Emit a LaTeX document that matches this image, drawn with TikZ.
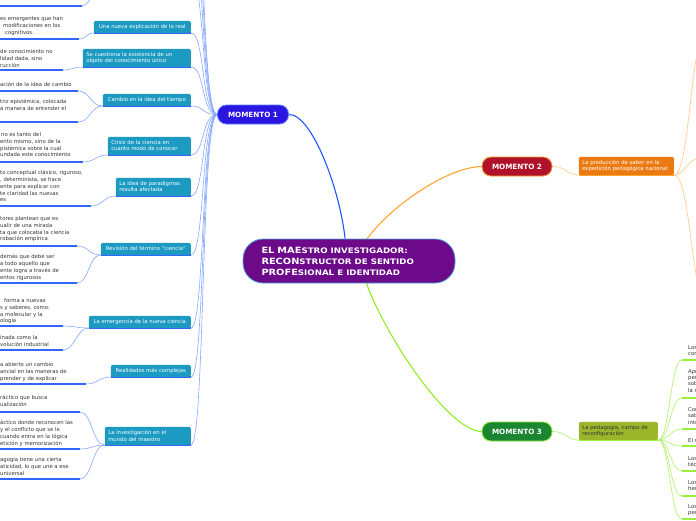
\documentclass[tikz,border=0pt]{standalone}
\usepackage{fontspec}
\setmainfont{DejaVu Sans}
\usepackage{graphicx}
\definecolor{cpurple}{HTML}{6C0A8A}
\definecolor{cpurpleb}{HTML}{4FA3D8}
\definecolor{cm1}{HTML}{2A16E0}
\definecolor{cm1b}{HTML}{5C7CFF}
\definecolor{cm2}{HTML}{B0122C}
\definecolor{cm2b}{HTML}{F5A030}
\definecolor{cm3}{HTML}{1B8532}
\definecolor{cm3b}{HTML}{8CEB2C}
\definecolor{cteal}{HTML}{1C9AC2}
\definecolor{corange}{HTML}{EC7A12}
\definecolor{colive}{HTML}{9DB52A}
\definecolor{cblue}{HTML}{3366FF}
\definecolor{clinkblue}{HTML}{86A8FF}
\definecolor{cmainblue}{HTML}{2255FF}
\definecolor{clorange}{HTML}{FFCF90}
\definecolor{cmainorange}{HTML}{FFA530}
\definecolor{clgreen}{HTML}{B8F27A}
\definecolor{cgreenline}{HTML}{9CEE3C}
\definecolor{cmaingreen}{HTML}{90EE20}
\definecolor{leafgray}{HTML}{333333}
\pgfdeclarelayer{bg}
\pgfsetlayers{bg,main}
\tikzset{
  lbox/.style={fill=cteal, text=white, font=\fontsize{5.3}{6.4}\selectfont, rounded corners=1.5pt, inner xsep=3.5pt, inner ysep=1pt, anchor=south east},
  leaf/.style={anchor=north west, inner sep=0pt, align=left, text=leafgray, font=\fontsize{5.3}{6.7}\selectfont},
  rleaf/.style={anchor=north west, inner sep=0pt, align=left, text=leafgray, font=\fontsize{5.3}{6.2}\selectfont},
  uline/.style={draw=cblue, line width=1.6pt},
  gline/.style={draw=cgreenline, line width=1.6pt},
  oline/.style={draw=cmainorange, line width=1.4pt},
  bluelink/.style={draw=clinkblue, line width=0.6pt},
  orangelink/.style={draw=clorange, line width=0.7pt},
  greenlink/.style={draw=clgreen, line width=0.7pt},
  pill/.style={rounded corners=9pt, minimum height=19pt, minimum width=71pt, text=white, font=\fontsize{7.2}{8}\selectfont\bfseries, line width=0.8pt},
}
\newcommand{\bigpart}[1]{{\fontsize{8.6}{11}\selectfont #1}}
\newcommand{\smallpart}[1]{{\fontsize{7.6}{11}\selectfont #1}}
\begin{document}
\begin{tikzpicture}[x=1pt,y=-1pt]
\useasboundingbox (0,0) rectangle (696,520);
\clip (0,0) rectangle (696,520);

% ---------- main nodes
\node[draw=cpurpleb, fill=cpurple, rounded corners=20pt, minimum width=212pt, minimum height=44pt, line width=0.8pt, text=white, align=left, text width=175pt, inner sep=0pt, font=\bfseries\fontsize{8}{11}\selectfont] (c) at (349,261)
 {\scalebox{1.14}[1]{\bigpart{EL MAE}\smallpart{STRO INVESTIGADOR:}}\\
  \scalebox{1.14}[1]{\bigpart{RECON}\smallpart{STRUCTOR DE SENTIDO}}\\
  \scalebox{1.14}[1]{\bigpart{PROFE}\smallpart{SIONAL E IDENTIDAD}}};

\node[pill, fill=cm1, draw=cm1b] (m1) at (253,114.5) {MOMENTO 1};
\node[pill, fill=cm2, draw=cm2b, minimum width=70pt] (m2) at (517,166.5) {MOMENTO 2};
\node[pill, fill=cm3, draw=cm3b, minimum width=70pt] (m3) at (517,431.5) {MOMENTO 3};

% ---------- left subtopic boxes
\node[lbox, minimum width=97pt, minimum height=12pt] (b1) at (191,33) {Una nueva explicación de lo real};
\node[lbox, minimum width=108pt, minimum height=18pt, text width=101pt, align=left] (b2) at (191,67) {Se cuestiona la existencia de un\\objeto del conocimiento único};
\node[lbox, minimum width=88pt, minimum height=12pt] (b3) at (191,106) {Cambio en la idea del tiempo};
\node[lbox, minimum width=83pt, minimum height=18pt, text width=76pt, align=left] (b4) at (191,155) {Crisis de la ciencia en\\cuanto modo de conocer};
\node[lbox, minimum width=75pt, minimum height=18pt, text width=68pt, align=left] (b5) at (191,196) {La idea de paradigmas\\resulta afectada};
\node[lbox, minimum width=90pt, minimum height=12pt] (b6) at (191,255) {Revisión del término "ciencia"};
\node[lbox, minimum width=102pt, minimum height=12pt] (b7) at (191,328) {La emergencia de la nueva ciencia};
\node[lbox, minimum width=80pt, minimum height=12pt] (b8) at (191,377) {Realidades más complejas};
\node[lbox, minimum width=86pt, minimum height=18pt, text width=79pt, align=left] (b9) at (191,445) {La investigación en el\\mundo del maestro};

% ---------- right subtopic boxes
\node[lbox, fill=corange, minimum width=95pt, minimum height=18pt, text width=88pt, align=left] (ob) at (674,175) {La producción de saber en la\\expedición pedagógica nacional};
\node[lbox, fill=colive, text=leafgray, minimum width=79pt, minimum height=18pt, text width=72pt, align=left] (gb) at (658,440) {La pedagogía, campo de\\reconfiguración};

% ---------- left leaves
\node[leaf] (l0) at (0,-3.5) {identidades};
\node[leaf] (lA) at (0,16.5) {es emergentes que han\\\hspace*{3pt}modificaciones en los\\\hspace*{5pt}cognitivos.};
\node[leaf] (lB) at (0,49.5) {de conocimiento no\\lidad dada, sino\\rucción};
\node[leaf] (lC) at (0,82.5) {ación de la idea de cambio};
\node[leaf] (lD) at (0,99.5) {triz epistémica, colocada\\a manera de entender el};
\node[leaf] (lE) at (0,132.5) {\hspace*{1pt}no es tanto del\\ento mismo, sino de la\\pistémica sobre la cual\\undada este conocimiento};
\node[leaf] (lF) at (0,170.5) {to conceptual clásico, riguroso,\\, determinista, se hace\\ente para explicar con\\te claridad las nuevas\\es};
\node[leaf] (lG) at (0,216.5) {tores plantean que es\\ualir de una mirada\\ta que colocaba la ciencia\\robación empírica};
\node[leaf] (lH) at (0,254.5) {demás que debe ser\\a todo aquello que\\ente logra a través de\\entos rigurosos};
\node[leaf] (lI) at (0,298.5) {\hspace*{4pt}forma a nuevas\\s y saberes, como:\\a molecular y la\\ología};
\node[leaf] (lJ) at (0,335.5) {inada como la\\volución industrial};
\node[leaf] (lK) at (0,362.5) {a abierto un cambio\\ancial en las maneras de\\prender y de explicar};
\node[leaf] (lL) at (0,395.5) {ráctico que busca\\ualización};
\node[leaf] (lM) at (0,420.5) {áctico donde reconocen las\\y el conflicto que se le\\cuando entra en la lógica\\etición y memorización};
\node[leaf] (lN) at (0,457.5) {agogía tiene una cierta\\aticidad, lo que une a ese\\universal};

% ---------- right leaves (MOMENTO 3)
\node[rleaf] (r1) at (688,345.5) {Los\\con};
\node[rleaf] (r2) at (688,369.5) {Apo\\per\\sob\\la r};
\node[rleaf] (r3) at (688,407.5) {Con\\sab\\inte};
\node[rleaf] (r4) at (688,438.5) {El r};
\node[rleaf] (r5) at (688,456.5) {Los\\técn};
\node[rleaf] (r6) at (688,480.5) {Los\\her};
\node[rleaf] (r7) at (688,504.5) {Los\\pers};

% ---------- coordinates for underline ends
\coordinate (u0s) at (0,6);   \coordinate (u0) at (82,6);
\coordinate (uAs) at (0,39);  \coordinate (uA) at (79,39);
\coordinate (uBs) at (0,70);  \coordinate (uB) at (63,70);
\coordinate (uCs) at (0,91);  \coordinate (uC) at (78,91);
\coordinate (uDs) at (0,122); \coordinate (uD) at (78,122);
\coordinate (uEs) at (0,162); \coordinate (uE) at (83,162);
\coordinate (uFs) at (0,206); \coordinate (uF) at (91,206);
\coordinate (uGs) at (0,246); \coordinate (uG) at (77,246);
\coordinate (uHs) at (0,283); \coordinate (uH) at (77,283);
\coordinate (uIs) at (0,326); \coordinate (uI) at (63,326);
\coordinate (uJs) at (0,350); \coordinate (uJ) at (63,350);
\coordinate (uKs) at (0,384); \coordinate (uK) at (86,384);
\coordinate (uLs) at (0,412); \coordinate (uL) at (80,412);
\coordinate (uMs) at (0,449); \coordinate (uM) at (80,449);
\coordinate (uNs) at (0,479); \coordinate (uN) at (80,479);
\coordinate (top0) at (102,-16);
\coordinate (t1) at (191,-22);
\coordinate (t2) at (191,-60);
\coordinate (t3) at (191,-100);
\coordinate (t4) at (191,-140);
\coordinate (o1) at (699,45);
\coordinate (o2) at (700,158);
\coordinate (o3) at (699,290);
\coordinate (g1) at (682,360); \coordinate (g1e) at (700,360);
\coordinate (g2) at (682,398); \coordinate (g2e) at (700,398);
\coordinate (g3) at (682,429); \coordinate (g3e) at (700,429);
\coordinate (g4) at (682,446); \coordinate (g4e) at (700,446);
\coordinate (g5) at (682,471); \coordinate (g5e) at (700,471);
\coordinate (g6) at (682,496); \coordinate (g6e) at (700,496);
\coordinate (g7) at (682,519); \coordinate (g7e) at (700,519);

\begin{pgfonlayer}{bg}
\fill[white] (0,0) rectangle (696,520);
% main branches
\draw[draw=cmainblue, line width=1.1pt] (c.100) .. controls (340,190) and (312,114) .. (m1.east);
\draw[draw=cmainorange, line width=1.1pt] (c.51) .. controls (392,205) and (448,167) .. (m2.west);
\draw[draw=cmaingreen, line width=1.1pt] (c.-52) .. controls (385,335) and (448,431) .. (m3.west);

% M1 to boxes
\foreach \b in {b1,b2,b3,b4,b5,b6,b7,b8,b9}
  \draw[bluelink] (\b.south east) .. controls +(14,0) and +(-16,0) .. (m1.west);
\foreach \t in {t1,t2,t3,t4}
  \draw[bluelink] (\t) .. controls +(14,0) and +(-16,0) .. (m1.west);

% box underlines
\foreach \b in {b1,b2,b3,b4,b5,b6,b7,b8,b9}
  \draw[uline] (\b.south west) -- (\b.south east);

% leaves underlines
\foreach \s/\e in {u0s/u0,uAs/uA,uBs/uB,uCs/uC,uDs/uD,uEs/uE,uFs/uF,uGs/uG,uHs/uH,uIs/uI,uJs/uJ,uKs/uK,uLs/uL,uMs/uM,uNs/uN}
  \draw[uline] (\s) -- (\e);

% leaves to boxes
\draw[bluelink] (u0) .. controls +(8,0) and +(-6,0) .. (top0);
\draw[bluelink] (uA) .. controls +(8,0) and +(-8,0) .. (b1.south west);
\draw[bluelink] (uB) .. controls +(10,0) and +(-10,0) .. (b2.south west);
\draw[bluelink] (uC) .. controls +(12,0) and +(-12,0) .. (b3.south west);
\draw[bluelink] (uD) .. controls +(12,0) and +(-12,0) .. (b3.south west);
\draw[bluelink] (uE) .. controls +(12,0) and +(-12,0) .. (b4.south west);
\draw[bluelink] (uF) .. controls +(12,0) and +(-12,0) .. (b5.south west);
\draw[bluelink] (uG) .. controls +(12,0) and +(-12,0) .. (b6.south west);
\draw[bluelink] (uH) .. controls +(12,0) and +(-12,0) .. (b6.south west);
\draw[bluelink] (uI) .. controls +(12,0) and +(-12,0) .. (b7.south west);
\draw[bluelink] (uJ) .. controls +(12,0) and +(-12,0) .. (b7.south west);
\draw[bluelink] (uK) .. controls +(12,0) and +(-12,0) .. (b8.south west);
\draw[bluelink] (uL) .. controls +(12,0) and +(-12,0) .. (b9.south west);
\draw[bluelink] (uM) .. controls +(12,0) and +(-12,0) .. (b9.south west);
\draw[bluelink] (uN) .. controls +(12,0) and +(-12,0) .. (b9.south west);

% MOMENTO 2
\draw[orangelink] (m2.east) .. controls +(14,0) and +(-12,0) .. (ob.south west);
\draw[oline] (ob.south west) -- (ob.south east);
\draw[orangelink] (ob.south east) .. controls +(13,0) and (690,80) .. (o1);
\draw[orangelink] (ob.south east) .. controls +(10,0) and (688,158) .. (o2);
\draw[orangelink] (ob.south east) .. controls +(13,0) and (690,250) .. (o3);

% MOMENTO 3
\draw[greenlink] (m3.east) .. controls +(14,0) and +(-12,0) .. (gb.south west);
\draw[gline] (gb.south west) -- (gb.south east);
\foreach \g in {g1,g2,g3,g4,g5,g6,g7}
  \draw[greenlink] (gb.south east) .. controls +(12,0) and +(-12,0) .. (\g);
\foreach \s/\e in {g1/g1e,g2/g2e,g3/g3e,g4/g4e,g5/g5e,g6/g6e,g7/g7e}
  \draw[gline] (\s) -- (\e);
\end{pgfonlayer}
\end{tikzpicture}
\end{document}
